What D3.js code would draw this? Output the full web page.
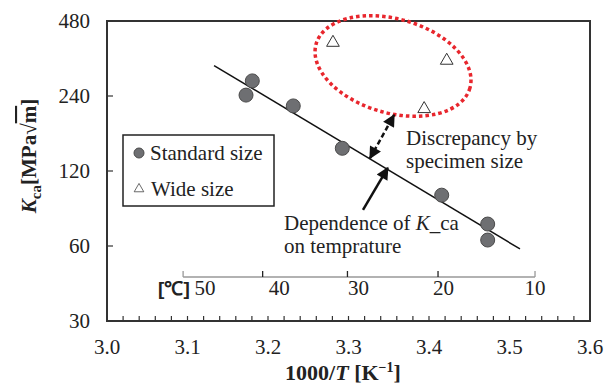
<!DOCTYPE html>
<html>
<head>
<meta charset="utf-8">
<script src="https://cdn.jsdelivr.net/npm/d3@7"></script>
<style>
  body { margin: 0; background: #fff; }
  text { font-family: "Liberation Serif", "Times New Roman", serif; }
</style>
</head>
<body>
<svg id="chart" width="616" height="385"></svg>
<script>
// data (x = 1000/T, y = K_ca)
var standardX = [3.1727, 3.1805, 3.2314, 3.2923, 3.4158, 3.4729, 3.4729];
var standardK = [242, 276, 219, 148, 96, 73.5, 63.4];
var wideX = [3.2807, 3.4220, 3.3940];
var wideK = [393, 333, 213];
// fitted trend line end points
var trendX = [3.133, 3.513];
var trendK = [318, 58.4];

var xTicks = [3.0, 3.1, 3.2, 3.3, 3.4, 3.5, 3.6];
var yTicks = [30, 60, 120, 240, 480];
var tempTicks = [50, 40, 30, 20, 10];

var svg = d3.select('#chart');
var plotLeft = 107, plotRight = 590, plotTop = 21, plotBottom = 321;
var fs = '21px';

var xScale = d3.scaleLinear().domain([3.0, 3.6]).range([plotLeft, plotRight]);
var yScale = d3.scaleLog().base(2).domain([30, 480]).range([plotBottom, plotTop]);
function tempX(t) { return xScale(1000 / (t + 273.15)); }

var frameColor = '#333';

// secondary temperature axis inside the plot
var tAxisY = 277;
svg.append('line')
    .attr('x1', tempX(50)).attr('x2', tempX(10))
    .attr('y1', tAxisY).attr('y2', tAxisY)
    .style('stroke', '#999').style('stroke-width', 1.3);
tempTicks.forEach(function(t, i){
    var end = (i == 0 || i == tempTicks.length - 1);
    svg.append('line')
        .attr('x1', tempX(t)).attr('x2', tempX(t))
        .attr('y1', tAxisY).attr('y2', tAxisY - 6)
        .style('stroke', end ? '#999' : '#222').style('stroke-width', 1.3);
    svg.append('text')
        .attr('x', tempX(t) + (t - 10) * 0.55)
        .attr('y', tAxisY + 18)
        .attr('text-anchor', 'middle')
        .style('font-size', fs).style('fill', '#222')
        .text(t);
});
svg.append('text')
    .attr('x', tempX(50) - 25).attr('y', tAxisY + 18)
    .style('font-family', '"Liberation Sans Narrow", "Liberation Sans", sans-serif')
    .style('font-weight', 'bold').style('font-size', '19px').style('fill', '#222')
    .text('[℃]');

// trend line
svg.append('line')
    .attr('x1', xScale(trendX[0])).attr('y1', yScale(trendK[0]))
    .attr('x2', xScale(trendX[1])).attr('y2', yScale(trendK[1]))
    .style('stroke', '#111').style('stroke-width', 1.5);

// standard size points
svg.selectAll('.std').data(standardX).enter().append('circle')
    .attr('class', 'std')
    .attr('cx', function(d){ return xScale(d); })
    .attr('cy', function(d, i){ return yScale(standardK[i]); })
    .attr('r', 7)
    .style('fill', '#6e6f72').style('stroke', '#4a4a4a').style('stroke-width', 1);

// wide size points
var tri = d3.symbol().type(d3.symbolTriangle).size(70);
svg.selectAll('.wide').data(wideX).enter().append('path')
    .attr('class', 'wide')
    .attr('d', tri)
    .attr('transform', function(d, i){ return 'translate(' + xScale(d) + ',' + yScale(wideK[i]) + ')'; })
    .style('fill', '#fff').style('stroke', '#333').style('stroke-width', 1);

// frame and axes
svg.append('rect')
    .attr('x', plotLeft).attr('y', plotTop)
    .attr('width', plotRight - plotLeft).attr('height', plotBottom - plotTop)
    .style('fill', 'none').style('stroke', frameColor).style('stroke-width', 2);

var minor = d3.range(0, 31).map(function(i){ return 3.0 + i * 0.02; });
svg.selectAll('.xt').data(minor).enter().append('line')
    .attr('x1', function(d){ return xScale(d); }).attr('x2', function(d){ return xScale(d); })
    .attr('y1', plotBottom).attr('y2', plotBottom - 5)
    .style('stroke', frameColor).style('stroke-width', 1.2);

svg.selectAll('.yt').data(yTicks).enter().append('line')
    .attr('x1', plotLeft).attr('x2', plotLeft + 6)
    .attr('y1', function(d){ return yScale(d); }).attr('y2', function(d){ return yScale(d); })
    .style('stroke', frameColor).style('stroke-width', 1.2);

svg.selectAll('.xl').data(xTicks).enter().append('text')
    .attr('x', function(d){ return xScale(d); })
    .attr('y', plotBottom + 33)
    .attr('text-anchor', 'middle')
    .style('font-size', fs).style('fill', '#222')
    .text(function(d){ return d.toFixed(1); });

svg.selectAll('.yl').data(yTicks).enter().append('text')
    .attr('x', plotLeft - 17)
    .attr('y', function(d){ return yScale(d) + 7; })
    .attr('text-anchor', 'end')
    .style('font-size', fs).style('fill', '#222')
    .text(function(d){ return d; });

// axis titles
var xt = svg.append('text')
    .attr('x', 343).attr('y', 380)
    .attr('text-anchor', 'middle')
    .style('font-size', '22px').style('font-weight', 'bold').style('fill', '#222');
xt.append('tspan').text('1000/');
xt.append('tspan').style('font-style', 'italic').text('T');
xt.append('tspan').text(' [K');
xt.append('tspan').attr('dy', -8).style('font-size', '14px').text('−1');
xt.append('tspan').attr('dy', 8).text(']');

var yt = svg.append('text')
    .attr('transform', 'translate(36,156) rotate(-90)')
    .attr('text-anchor', 'middle')
    .style('font-size', fs).style('font-weight', 'bold').style('fill', '#222');
yt.append('tspan').style('font-style', 'italic').text('K');
yt.append('tspan').attr('dy', 5).style('font-size', '15px').text('ca');
yt.append('tspan').attr('dy', -5).text('[MPa√');
yt.append('tspan').style('text-decoration', 'overline').text('m');
yt.append('tspan').text(']');

// legend
var lg = svg.append('g');
lg.append('rect')
    .attr('x', 123).attr('y', 135).attr('width', 151).attr('height', 71)
    .style('fill', '#fff').style('stroke', '#222').style('stroke-width', 1.5);
lg.append('circle').attr('cx', 139).attr('cy', 153).attr('r', 5)
    .style('fill', '#6e6f72').style('stroke', '#4a4a4a');
lg.append('path').attr('d', d3.symbol().type(d3.symbolTriangle).size(40))
    .attr('transform', 'translate(139,189)')
    .style('fill', '#fff').style('stroke', '#444').style('stroke-width', 0.8);
lg.append('text').attr('x', 150).attr('y', 160).style('font-size', fs).style('fill', '#222').text('Standard size');
lg.append('text').attr('x', 151).attr('y', 196).style('font-size', fs).style('fill', '#222').text('Wide size');

// annotations
var defs = svg.append('defs');
defs.append('marker').attr('id', 'head')
    .attr('viewBox', '0 0 10 10').attr('refX', 9).attr('refY', 5)
    .attr('markerWidth', 6).attr('markerHeight', 5)
    .attr('markerUnits', 'strokeWidth').attr('orient', 'auto-start-reverse')
    .append('path').attr('d', 'M0,0 L10,5 L0,10 z').style('fill', '#111');

svg.append('ellipse')
    .attr('cx', 0).attr('cy', 0).attr('rx', 80).attr('ry', 47)
    .attr('transform', 'translate(' + xScale(3.3553) + ',' + yScale(316.7) + ') rotate(16)')
    .style('fill', 'none').style('stroke', '#e8262d').style('stroke-width', 3.5)
    .style('stroke-dasharray', '3.5 3');

svg.append('line')
    .attr('x1', xScale(3.3267)).attr('y1', yScale(135))
    .attr('x2', xScale(3.3566)).attr('y2', yScale(201.4))
    .attr('marker-start', 'url(#head)').attr('marker-end', 'url(#head)')
    .style('stroke', '#111').style('stroke-width', 2.5).style('stroke-dasharray', '5 3');

svg.append('line')
    .attr('x1', xScale(3.318)).attr('y1', yScale(83.7))
    .attr('x2', xScale(3.3488)).attr('y2', yScale(123.5))
    .attr('marker-end', 'url(#head)')
    .style('stroke', '#111').style('stroke-width', 2.5);

svg.append('text').attr('x', xScale(3.3714)).attr('y', yScale(152.6))
    .style('font-size', fs).style('fill', '#222').text('Discrepancy by');
svg.append('text').attr('x', xScale(3.3714)).attr('y', yScale(152.6) + 23)
    .style('font-size', fs).style('fill', '#222').text('specimen size');

var dep = svg.append('text').attr('x', xScale(3.2199)).attr('y', yScale(69.6))
    .style('font-size', fs).style('fill', '#222');
dep.append('tspan').text('Dependence of ');
dep.append('tspan').style('font-style', 'italic').text('K');
dep.append('tspan').text('_ca');
svg.append('text').attr('x', xScale(3.2199)).attr('y', yScale(69.6) + 23)
    .style('font-size', fs).style('fill', '#222').text('on temprature');
</script>
</body>
</html>
